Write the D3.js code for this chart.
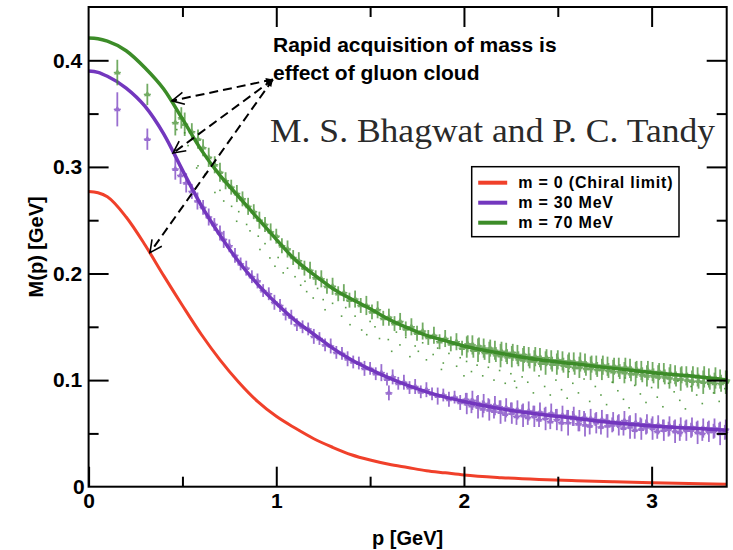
<!DOCTYPE html>
<html>
<head>
<meta charset="utf-8">
<script src="https://cdn.jsdelivr.net/npm/d3@7"></script>
<style>
  body { margin: 0; background: #fff; }
  text { font-family: "Liberation Sans", Arial, sans-serif; }
</style>
</head>
<body>
<svg id="chart" width="733" height="550"></svg>
<script>
// momentum grid for the three model curves
const curveP = [0, 0.05, 0.1, 0.2, 0.3, 0.4, 0.5, 0.6, 0.7, 0.8, 0.9, 1.0, 1.1, 1.2, 1.3, 1.4,
    1.5, 1.6, 1.7, 1.8, 1.9, 2.0, 2.2, 2.4, 2.6, 2.8, 3.0, 3.2, 3.4];
const chiralM = [0.277, 0.2758, 0.272, 0.253, 0.227, 0.198, 0.170, 0.143, 0.119, 0.098, 0.080, 0.066, 0.055,
    0.045, 0.037, 0.030, 0.025, 0.021, 0.018, 0.015, 0.013, 0.011, 0.0085, 0.0068, 0.0056, 0.0046,
    0.0038, 0.0030, 0.0024];
const m30M = [0.390, 0.3887, 0.385, 0.374, 0.357, 0.331, 0.297, 0.264, 0.236, 0.211, 0.190, 0.172, 0.156,
    0.143, 0.130, 0.119, 0.110, 0.102, 0.095, 0.089, 0.084, 0.080, 0.073, 0.068, 0.064, 0.060,
    0.057, 0.055, 0.053];
const m70M = [0.421, 0.4203, 0.418, 0.409, 0.393, 0.373, 0.345, 0.316, 0.292, 0.272, 0.252, 0.232, 0.213,
    0.199, 0.186, 0.176, 0.167, 0.157, 0.149, 0.142, 0.137, 0.132, 0.125, 0.119, 0.115, 0.111,
    0.107, 0.104, 0.100];

// lattice points: [p, M, error]
const m30Lattice = [
    [0.153, 0.354, 0.016], [0.313, 0.326, 0.010], [0.462, 0.298, 0.010], [0.49, 0.292, 0.008],
    [0.52, 0.285, 0.009], [0.55, 0.277, 0.007], [0.58, 0.268, 0.008], [0.61, 0.262, 0.007],
    [0.64, 0.253, 0.008], [0.67, 0.246, 0.006], [0.70, 0.238, 0.007], [0.72, 0.232, 0.008],
    [0.75, 0.226, 0.006], [0.78, 0.217, 0.007], [0.81, 0.209, 0.006], [0.84, 0.205, 0.007],
    [0.87, 0.197, 0.006], [0.90, 0.193, 0.007], [0.93, 0.184, 0.006], [0.96, 0.181, 0.006],
    [0.99, 0.173, 0.007], [1.02, 0.170, 0.006], [1.05, 0.162, 0.006], [1.08, 0.159, 0.007],
    [1.11, 0.152, 0.006], [1.14, 0.150, 0.006], [1.17, 0.148, 0.006], [1.20, 0.141, 0.007],
    [1.23, 0.139, 0.006], [1.26, 0.133, 0.006], [1.29, 0.132, 0.007], [1.32, 0.126, 0.006],
    [1.35, 0.125, 0.006], [1.38, 0.120, 0.007], [1.41, 0.117, 0.006], [1.44, 0.116, 0.006],
    [1.47, 0.111, 0.007], [1.50, 0.111, 0.006], [1.53, 0.106, 0.006], [1.56, 0.107, 0.008],
    [1.59, 0.101, 0.006], [1.60, 0.088, 0.007], [1.62, 0.103, 0.007], [1.65, 0.097, 0.006],
    [1.68, 0.098, 0.007], [1.71, 0.093, 0.006], [1.74, 0.094, 0.007], [1.77, 0.089, 0.006],
    [1.80, 0.091, 0.007], [1.83, 0.087, 0.006], [1.86, 0.085, 0.008], [1.89, 0.086, 0.006],
    [1.92, 0.082, 0.007], [1.95, 0.084, 0.006], [1.98, 0.079, 0.007], [2.01, 0.082, 0.006],
    [2.04, 0.076, 0.007], [2.07, 0.079, 0.006], [2.10, 0.073, 0.008], [2.13, 0.077, 0.006],
    [2.16, 0.071, 0.007], [2.19, 0.075, 0.006], [2.22, 0.068, 0.007], [2.25, 0.073, 0.006],
    [2.28, 0.066, 0.008], [2.31, 0.071, 0.006], [2.34, 0.065, 0.007], [2.37, 0.070, 0.006],
    [2.40, 0.063, 0.007], [2.43, 0.068, 0.006], [2.46, 0.061, 0.007], [2.49, 0.067, 0.006],
    [2.52, 0.060, 0.008], [2.55, 0.066, 0.006], [2.58, 0.064, 0.007], [2.61, 0.059, 0.007],
    [2.64, 0.065, 0.006], [2.67, 0.057, 0.008], [2.70, 0.063, 0.006], [2.73, 0.056, 0.007],
    [2.76, 0.062, 0.006], [2.79, 0.058, 0.007], [2.82, 0.061, 0.006], [2.85, 0.055, 0.007],
    [2.88, 0.060, 0.006], [2.91, 0.053, 0.008], [2.94, 0.059, 0.006], [2.97, 0.056, 0.007],
    [3.00, 0.058, 0.006], [3.03, 0.052, 0.007], [3.06, 0.057, 0.006], [3.09, 0.054, 0.007],
    [3.12, 0.056, 0.006], [3.15, 0.051, 0.008], [3.18, 0.056, 0.006], [3.21, 0.053, 0.007],
    [3.24, 0.055, 0.006], [3.27, 0.050, 0.007], [3.30, 0.055, 0.006], [3.33, 0.052, 0.007],
    [3.36, 0.054, 0.006], [3.39, 0.051, 0.007],
    [2.015, 0.078, 0.010], [2.045, 0.081, 0.009], [2.075, 0.075, 0.011], [2.105, 0.078, 0.009],
    [2.135, 0.072, 0.010], [2.165, 0.076, 0.009], [2.195, 0.070, 0.011], [2.225, 0.074, 0.009],
    [2.255, 0.069, 0.010], [2.285, 0.072, 0.009], [2.315, 0.067, 0.011], [2.345, 0.071, 0.009],
    [2.375, 0.066, 0.010], [2.405, 0.070, 0.009], [2.435, 0.064, 0.011], [2.465, 0.069, 0.009],
    [2.495, 0.063, 0.010], [2.525, 0.067, 0.009], [2.555, 0.060, 0.012], [2.585, 0.066, 0.009],
    [2.615, 0.062, 0.010], [2.645, 0.058, 0.011], [2.675, 0.064, 0.009], [2.705, 0.060, 0.010],
    [2.735, 0.063, 0.009], [2.765, 0.057, 0.011], [2.795, 0.061, 0.009], [2.825, 0.058, 0.010],
    [2.855, 0.062, 0.009], [2.885, 0.056, 0.011], [2.915, 0.060, 0.009], [2.945, 0.054, 0.010],
    [2.975, 0.059, 0.009], [3.005, 0.055, 0.011], [3.035, 0.058, 0.009], [3.065, 0.053, 0.010],
    [3.095, 0.057, 0.009], [3.125, 0.052, 0.011], [3.155, 0.056, 0.009], [3.185, 0.053, 0.010],
    [3.215, 0.056, 0.009], [3.245, 0.051, 0.011], [3.275, 0.055, 0.009], [3.305, 0.052, 0.010],
    [3.335, 0.055, 0.009], [3.365, 0.050, 0.011], [3.395, 0.054, 0.009]
];
const m70Lattice = [
    [0.153, 0.3885, 0.012], [0.313, 0.368, 0.010], [0.462, 0.3415, 0.012], [0.494, 0.346, 0.010],
    [0.512, 0.340, 0.011], [0.55, 0.333, 0.008], [0.583, 0.326, 0.009], [0.61, 0.318, 0.008],
    [0.64, 0.309, 0.009], [0.672, 0.302, 0.008], [0.70, 0.295, 0.009], [0.73, 0.287, 0.008],
    [0.76, 0.281, 0.007], [0.79, 0.275, 0.008], [0.82, 0.270, 0.007], [0.85, 0.263, 0.008],
    [0.88, 0.258, 0.007], [0.91, 0.250, 0.008], [0.94, 0.246, 0.007], [0.97, 0.239, 0.008],
    [1.00, 0.235, 0.007], [1.03, 0.226, 0.007], [1.06, 0.223, 0.008], [1.09, 0.215, 0.007],
    [1.12, 0.212, 0.008], [1.15, 0.205, 0.007], [1.18, 0.203, 0.008], [1.21, 0.196, 0.007],
    [1.24, 0.195, 0.008], [1.27, 0.188, 0.007], [1.30, 0.188, 0.008], [1.33, 0.181, 0.007],
    [1.36, 0.182, 0.008], [1.39, 0.175, 0.007], [1.42, 0.176, 0.008], [1.45, 0.170, 0.007],
    [1.48, 0.170, 0.009], [1.51, 0.164, 0.007], [1.54, 0.166, 0.008], [1.57, 0.158, 0.007],
    [1.60, 0.159, 0.008], [1.63, 0.153, 0.007], [1.66, 0.155, 0.008], [1.69, 0.148, 0.007],
    [1.72, 0.150, 0.008], [1.75, 0.144, 0.007], [1.78, 0.146, 0.008], [1.81, 0.140, 0.007],
    [1.84, 0.142, 0.008], [1.87, 0.136, 0.007], [1.90, 0.139, 0.008], [1.93, 0.134, 0.007],
    [1.96, 0.136, 0.008], [1.99, 0.130, 0.007], [2.02, 0.134, 0.008], [2.05, 0.128, 0.007],
    [2.08, 0.132, 0.008], [2.11, 0.126, 0.007], [2.14, 0.130, 0.008], [2.17, 0.124, 0.007],
    [2.20, 0.127, 0.009], [2.23, 0.122, 0.007], [2.26, 0.126, 0.008], [2.29, 0.120, 0.007],
    [2.32, 0.124, 0.008], [2.35, 0.118, 0.007], [2.38, 0.122, 0.009], [2.41, 0.116, 0.007],
    [2.44, 0.121, 0.008], [2.47, 0.115, 0.007], [2.50, 0.119, 0.009], [2.53, 0.114, 0.007],
    [2.56, 0.118, 0.008], [2.59, 0.112, 0.007], [2.62, 0.117, 0.009], [2.65, 0.111, 0.007],
    [2.68, 0.115, 0.008], [2.71, 0.110, 0.007], [2.74, 0.114, 0.009], [2.77, 0.109, 0.007],
    [2.80, 0.113, 0.008], [2.83, 0.108, 0.007], [2.86, 0.112, 0.009], [2.89, 0.106, 0.007],
    [2.92, 0.110, 0.008], [2.95, 0.105, 0.007], [2.98, 0.109, 0.009], [3.01, 0.104, 0.007],
    [3.04, 0.108, 0.008], [3.07, 0.103, 0.007], [3.10, 0.106, 0.009], [3.13, 0.101, 0.007],
    [3.16, 0.105, 0.008], [3.19, 0.100, 0.007], [3.22, 0.104, 0.009], [3.25, 0.099, 0.007],
    [3.28, 0.103, 0.010], [3.31, 0.098, 0.007], [3.34, 0.102, 0.010], [3.37, 0.097, 0.008],
    [3.40, 0.100, 0.009],
    [2.015, 0.131, 0.010], [2.045, 0.133, 0.009], [2.075, 0.128, 0.011], [2.105, 0.130, 0.009],
    [2.135, 0.126, 0.010], [2.165, 0.128, 0.009], [2.195, 0.123, 0.011], [2.225, 0.126, 0.009],
    [2.255, 0.122, 0.010], [2.285, 0.124, 0.009], [2.315, 0.119, 0.011], [2.345, 0.122, 0.009],
    [2.375, 0.118, 0.010], [2.405, 0.121, 0.009], [2.435, 0.116, 0.011], [2.465, 0.119, 0.009],
    [2.495, 0.115, 0.010], [2.525, 0.118, 0.009], [2.555, 0.113, 0.011], [2.585, 0.117, 0.009],
    [2.615, 0.112, 0.010], [2.645, 0.116, 0.009], [2.675, 0.111, 0.011], [2.705, 0.114, 0.009],
    [2.735, 0.110, 0.010], [2.765, 0.113, 0.009], [2.795, 0.108, 0.011], [2.825, 0.112, 0.009],
    [2.855, 0.107, 0.010], [2.885, 0.111, 0.009], [2.915, 0.106, 0.011], [2.945, 0.109, 0.009],
    [2.975, 0.104, 0.010], [3.005, 0.108, 0.009], [3.035, 0.103, 0.011], [3.065, 0.107, 0.009],
    [3.095, 0.102, 0.010], [3.125, 0.105, 0.009], [3.155, 0.101, 0.011], [3.185, 0.104, 0.009],
    [3.215, 0.099, 0.010], [3.245, 0.103, 0.009], [3.275, 0.098, 0.011], [3.305, 0.102, 0.009],
    [3.335, 0.097, 0.010], [3.365, 0.101, 0.009], [3.395, 0.098, 0.011]
];
// small green dots without error bars: [p, M]
const m70Scatter = [
    [0.47, 0.335], [0.512, 0.332], [0.53, 0.320], [0.576, 0.299], [0.583, 0.301], [0.62, 0.293],
    [0.673, 0.276], [0.70, 0.278], [0.72, 0.268], [0.762, 0.263], [0.789, 0.249], [0.80, 0.258],
    [0.842, 0.246], [0.86, 0.240], [0.904, 0.235], [0.913, 0.2225], [0.94, 0.228], [0.966, 0.2146],
    [0.993, 0.2068], [1.01, 0.215], [1.037, 0.2006], [1.06, 0.205], [1.10, 0.197], [1.13, 0.189],
    [1.153, 0.1927], [1.162, 0.183], [1.197, 0.177], [1.22, 0.186], [1.25, 0.1755], [1.26, 0.166],
    [1.30, 0.172], [1.348, 0.160], [1.37, 0.168], [1.393, 0.152], [1.42, 0.160], [1.455, 0.147],
    [1.482, 0.1426], [1.50, 0.155], [1.526, 0.150], [1.55, 0.139], [1.597, 0.138], [1.615, 0.127],
    [1.64, 0.145], [1.659, 0.133], [1.69, 0.140], [1.712, 0.122], [1.74, 0.132], [1.757, 0.127],
    [1.78, 0.135], [1.80, 0.119], [1.836, 0.124], [1.86, 0.130], [1.88, 0.110], [1.89, 0.116],
    [1.92, 0.125], [1.961, 0.113], [1.98, 0.121], [2.00, 0.104], [2.014, 0.1175], [2.04, 0.108],
    [2.07, 0.114], [2.10, 0.104], [2.13, 0.112], [2.16, 0.100], [2.19, 0.109], [2.22, 0.097],
    [2.25, 0.106], [2.27, 0.099], [2.28, 0.093], [2.31, 0.103], [2.34, 0.098], [2.37, 0.088],
    [2.40, 0.104], [2.43, 0.094], [2.46, 0.086], [2.49, 0.100], [2.52, 0.091], [2.55, 0.083],
    [2.56, 0.108], [2.58, 0.097], [2.61, 0.088], [2.64, 0.101], [2.67, 0.080], [2.70, 0.094],
    [2.73, 0.086], [2.76, 0.077], [2.79, 0.098], [2.82, 0.090], [2.85, 0.082], [2.86, 0.102],
    [2.88, 0.074], [2.91, 0.095], [2.94, 0.087], [2.97, 0.079], [3.00, 0.093], [3.03, 0.084],
    [3.06, 0.075], [3.09, 0.097], [3.12, 0.089], [3.14, 0.099], [3.15, 0.081], [3.18, 0.073],
    [3.21, 0.094], [3.24, 0.086], [3.27, 0.078], [3.30, 0.096], [3.33, 0.088], [3.36, 0.080],
    [3.39, 0.092]
];

const xMajor = [0, 1, 2, 3];
const xMinor = [0.5, 1.5, 2.5];
const yMajor = [0, 0.1, 0.2, 0.3, 0.4];
const yMinor = [0.05, 0.15, 0.25, 0.35];
const seriesNames = ["m = 0 (Chiral limit)", "m = 30 MeV", "m = 70 MeV"];
const seriesColors = ["#f0402a", "#7337be", "#3c8c28"];
const noteLines = ["Rapid acquisition of mass is", "effect of gluon cloud"];
const creditText = "M. S. Bhagwat and P. C. Tandy";
// arrows start near the note text and point at the curves (data coordinates)
const arrowFrom = [0.982, 0.382];
const arrowTo = [[0.444, 0.362], [0.450, 0.313], [0.327, 0.2196]];

const svg = d3.select("#chart");
const width = 733, height = 550;
const margin = { top: 7, right: 6.3, bottom: 63.3, left: 88.6 };

const x = d3.scaleLinear().domain([0, 3.4]).range([margin.left, width - margin.right]);
const y = d3.scaleLinear().domain([0, 0.45]).range([height - margin.bottom, margin.top]);

svg.append("rect").attr("width", width).attr("height", height).attr("fill", "#fff");

const plot = svg.append("g");

const line = d3.line().x(d => x(d[0])).y(d => y(d[1])).curve(d3.curveMonotoneX);

// faint green dots
plot.append("g").selectAll("rect")
    .data(m70Scatter)
    .join("rect")
    .attr("x", d => x(d[0]) - 0.8)
    .attr("y", d => y(d[1]) - 0.8)
    .attr("width", 1.6)
    .attr("height", 1.6)
    .attr("fill", seriesColors[2])
    .attr("opacity", 0.85);

// curves
[chiralM, m30M, m70M].forEach((vals, i) => {
    plot.append("path")
        .datum(curveP.map((p, j) => [p, vals[j]]))
        .attr("fill", "none")
        .attr("stroke", seriesColors[i])
        .attr("stroke-width", i === 0 ? 3 : 3.5)
        .attr("d", line);
});

// lattice points with error bars
function drawLattice(data, color) {
    const g = plot.append("g").attr("opacity", 0.72);
    const pts = g.selectAll("g").data(data).join("g");
    pts.append("line")
        .attr("x1", d => x(d[0])).attr("x2", d => x(d[0]))
        .attr("y1", d => y(d[1] - d[2])).attr("y2", d => y(d[1] + d[2]))
        .attr("stroke", color).attr("stroke-width", 1.8);
    pts.append("line")
        .attr("x1", d => x(d[0]) - 3.5).attr("x2", d => x(d[0]) + 3.5)
        .attr("y1", d => y(d[1])).attr("y2", d => y(d[1]))
        .attr("stroke", color).attr("stroke-width", 1.5);
    pts.append("path")
        .attr("transform", d => `translate(${x(d[0])},${y(d[1])})`)
        .attr("d", d3.symbol(d3.symbolTriangle, 18))
        .attr("fill", color);
}
drawLattice(m30Lattice, seriesColors[1]);
drawLattice(m70Lattice, seriesColors[2]);

// frame and ticks
const axisFont = g => g.selectAll("text")
    .style("font-family", "'Liberation Sans', Arial, sans-serif")
    .style("font-size", "21px")
    .style("font-weight", "bold")
    .attr("fill", "#000");

function tickAxis(axis, transform, len, values, labels) {
    const a = svg.append("g")
        .attr("transform", transform)
        .call(axis.tickValues(values).tickSizeInner(-len).tickSizeOuter(0)
            .tickPadding(labels ? 6.5 : 0).tickFormat(labels ? d3.format("") : ""));
    a.select(".domain").remove();
    a.selectAll("line").attr("stroke", "#000").attr("stroke-width", 2);
    a.call(axisFont);
    return a;
}
const bottomY = y(0), topY = y(0.45), leftX = x(0), rightX = x(3.4);
tickAxis(d3.axisBottom(x), `translate(0,${bottomY})`, 20, xMajor, true);
tickAxis(d3.axisBottom(x), `translate(0,${bottomY})`, 10, xMinor, false);
tickAxis(d3.axisTop(x), `translate(0,${topY})`, 20, xMajor.slice(1), false);
tickAxis(d3.axisTop(x), `translate(0,${topY})`, 10, xMinor, false);
tickAxis(d3.axisLeft(y), `translate(${leftX},0)`, 20, yMajor.slice(1), true);
tickAxis(d3.axisLeft(y), `translate(${leftX},0)`, 10, yMinor, false);
tickAxis(d3.axisRight(y), `translate(${rightX},0)`, 20, yMajor.slice(1), false);
tickAxis(d3.axisRight(y), `translate(${rightX},0)`, 10, yMinor, false);

// y label "0" sits at the corner
svg.append("text")
    .attr("x", leftX - 4).attr("y", bottomY + 7)
    .attr("text-anchor", "end")
    .style("font-size", "21px").style("font-weight", "bold")
    .text("0");

svg.append("rect")
    .attr("x", leftX).attr("y", topY)
    .attr("width", rightX - leftX).attr("height", bottomY - topY)
    .attr("fill", "none").attr("stroke", "#000").attr("stroke-width", 2);

// axis titles
svg.append("text")
    .attr("x", (leftX + rightX) / 2).attr("y", 545)
    .attr("text-anchor", "middle")
    .style("font-size", "20px").style("font-weight", "bold")
    .text("p [GeV]");

svg.append("text")
    .attr("transform", `translate(43,${(topY + bottomY) / 2}) rotate(-90)`)
    .attr("text-anchor", "middle")
    .style("font-size", "20px").style("font-weight", "bold")
    .text("M(p) [GeV]");

// legend
const legend = svg.append("g").attr("transform", "translate(471.7,166.7)");
legend.append("rect")
    .attr("width", 207.3).attr("height", 70)
    .attr("fill", "#fff").attr("stroke", "#000").attr("stroke-width", 1.5);
seriesNames.forEach((name, i) => {
    const yy = 16 + i * 20;
    legend.append("line")
        .attr("x1", 6.5).attr("x2", 35.5).attr("y1", yy).attr("y2", yy)
        .attr("stroke", seriesColors[i]).attr("stroke-width", 4);
    legend.append("text")
        .attr("x", 46.5).attr("y", yy + 5.5)
        .style("font-size", "16px").style("font-weight", "bold")
        .style("letter-spacing", "0.8px")
        .text(name);
});

// annotation
const defs = svg.append("defs");
defs.append("marker")
    .attr("id", "openHead")
    .attr("viewBox", "-14 -8 16 16")
    .attr("markerWidth", 16).attr("markerHeight", 16)
    .attr("markerUnits", "userSpaceOnUse")
    .attr("refX", 0).attr("refY", 0)
    .attr("orient", "auto")
    .append("path")
    .attr("d", "M-12,-6 L0,0 L-12,6")
    .attr("fill", "none").attr("stroke", "#000").attr("stroke-width", 1.6);
defs.append("marker")
    .attr("id", "smallHead")
    .attr("viewBox", "-8 -4 9 8")
    .attr("markerWidth", 9).attr("markerHeight", 8)
    .attr("markerUnits", "userSpaceOnUse")
    .attr("refX", 0).attr("refY", 0)
    .attr("orient", "auto-start-reverse")
    .append("path")
    .attr("d", "M-7,-3 L0,0 L-7,3 Z")
    .attr("fill", "#000");

svg.append("g").selectAll("line")
    .data(arrowTo)
    .join("line")
    .attr("x1", x(arrowFrom[0])).attr("y1", y(arrowFrom[1]))
    .attr("x2", d => x(d[0])).attr("y2", d => y(d[1]))
    .attr("stroke", "#000").attr("stroke-width", 2)
    .attr("stroke-dasharray", "9,5")
    .attr("marker-start", "url(#smallHead)")
    .attr("marker-end", "url(#openHead)");

noteLines.forEach((t, i) => {
    svg.append("text")
        .attr("x", 273).attr("y", 51.7 + i * 28)
        .style("font-size", "21px").style("font-weight", "bold")
        .text(t);
});

svg.append("text")
    .attr("x", 270).attr("y", 141.7)
    .attr("textLength", 445)
    .attr("lengthAdjust", "spacingAndGlyphs")
    .style("font-family", "'Liberation Serif', 'Times New Roman', serif")
    .style("font-size", "34px")
    .attr("fill", "#2a2a2a")
    .text(creditText);
</script>
</body>
</html>
